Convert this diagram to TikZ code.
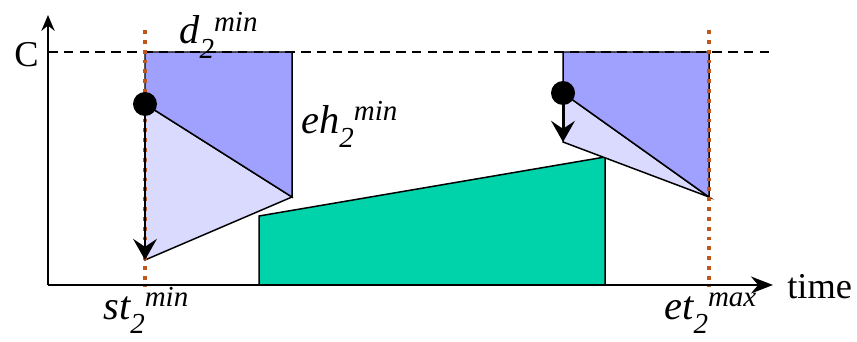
\documentclass[tikz,border=0pt]{standalone}
\usepackage{fontspec}
\setmainfont{Liberation Serif}
\usetikzlibrary{arrows.meta}
\definecolor{darkblue}{RGB}{160,160,255}
\definecolor{lightblue}{RGB}{218,218,255}
\definecolor{greenfill}{RGB}{0,210,170}
\definecolor{dotorange}{RGB}{192,86,26}
\newcommand\sublab[3]{#1\raisebox{-8pt}{\fontsize{16.5}{18}\selectfont #2}\raisebox{7pt}{\fontsize{16.5}{18}\selectfont #3}}
\tikzset{
  edge/.style={draw=black, line width=0.85pt, line join=miter},
  axis/.style={line width=1.5pt},
  limitline/.style={dotorange, line width=2.2pt, dash pattern=on 2.2pt off 3.4pt},
  capline/.style={line width=1.1pt, dash pattern=on 5.5pt off 3.5pt},
  droparrow/.style={line width=1.7pt, -{Stealth[length=12pt, width=13.5pt, inset=4.5pt]}},
  dotnode/.style={circle, fill=black, inner sep=0pt, minimum size=0.48cm},
  lab/.style={anchor=base west, inner sep=0pt, font=\fontsize{23}{25}\selectfont\itshape},
  plainlab/.style={anchor=base west, inner sep=0pt, font=\fontsize{20.7}{22}\selectfont}
}
\begin{document}
\begin{tikzpicture}[x=0.02cm, y=-0.02cm]
\useasboundingbox (0,0) rectangle (857,341);
% coordinates
\coordinate (O) at (48,285);
\coordinate (Ytip) at (48,15);
\coordinate (Xtip) at (773,285);
\coordinate (Cl) at (48,52);
\coordinate (Cr) at (773,52);
\coordinate (A1) at (145,52);
\coordinate (A2) at (292,52);
\coordinate (A3) at (292,197);
\coordinate (A4) at (145,104);
\coordinate (A5) at (145,260);
\coordinate (B1) at (563,52);
\coordinate (B2) at (709,52);
\coordinate (B3) at (709,197);
\coordinate (B4) at (563,93);
\coordinate (B5) at (563,142);
\coordinate (G1) at (259,285);
\coordinate (G2) at (259,216);
\coordinate (G3) at (605,157);
\coordinate (G4) at (605,285);
\coordinate (D1t) at (145,30);
\coordinate (D1b) at (145,287);
\coordinate (D2t) at (709,30);
\coordinate (D2b) at (709,287);
% green block
\path[edge, fill=greenfill] (G1) -- (G2) -- (G3) -- (G4) -- cycle;
% left block
\path[edge, fill=lightblue] (A4) -- (A3) -- (A5) -- cycle;
\path[edge, fill=darkblue] (A1) -- (A2) -- (A3) -- (A4) -- cycle;
% right block
\path[edge, fill=lightblue] (B4) -- (B3) -- (B5) -- cycle;
\path[edge, fill=darkblue] (B1) -- (B2) -- (B3) -- (B4) -- cycle;
% capacity line
\draw[capline] (Cl) -- (Cr);
% axes
\draw[axis, -{Stealth[length=9pt, width=7.5pt, inset=3pt]}] (O) -- (Ytip);
\draw[axis, -{Stealth[length=12.5pt, width=9.6pt, inset=4pt]}] (O) -- (Xtip);
% limit lines
\draw[limitline] (D1t) -- (D1b);
\draw[limitline] (D2t) -- (D2b);
% drop arrows and dots
\draw[droparrow] (A4) -- (A5);
\draw[droparrow] (B4) -- (B5);
\node[dotnode] (dotA) at (A4) {};
\node[dotnode] (dotB) at (B4) {};
% labels
\node[plainlab] (Clab) at (14,67) {C};
\node[plainlab] (timelab) at (787,298) {time};
\node[lab] (dlab) at (179,44) {\sublab{d}{2}{min}};
\node[lab] (ehlab) at (301,133) {\sublab{eh}{2}{min}};
\node[lab] (stlab) at (103,319) {\sublab{st}{2}{min}};
\node[lab] (etlab) at (664,319) {\sublab{et}{2}{max}};
\end{tikzpicture}
\end{document}
